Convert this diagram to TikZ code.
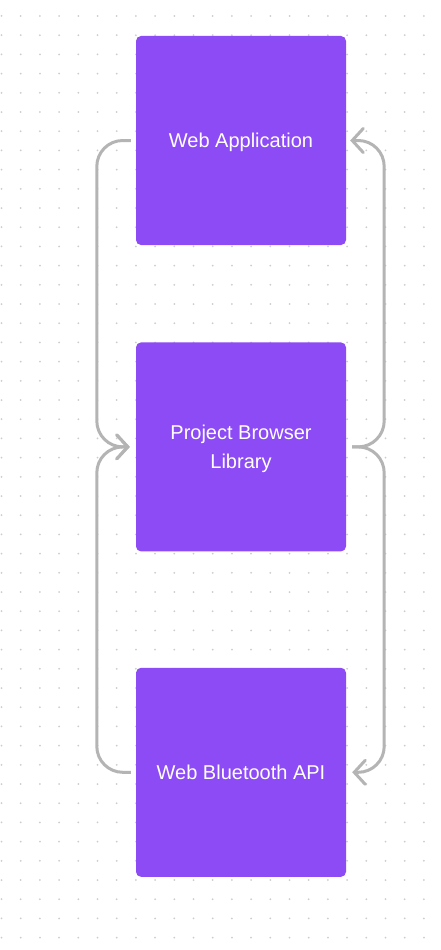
\documentclass[tikz,border=0pt]{standalone}
\usepackage{fontspec}
\setmainfont{Liberation Sans}
\usetikzlibrary{arrows.meta}
\usetikzlibrary{positioning,calc}
\definecolor{boxpurple}{RGB}{140,75,244}
\definecolor{linkgray}{RGB}{180,180,180}
\definecolor{dotgray}{RGB}{205,205,205}

\begin{document}
\begin{tikzpicture}[x=1pt, y=-1pt, >={Straight Barb[length=11pt, width=24pt, line cap=round]},
		box/.style={fill=boxpurple, rounded corners=5pt, minimum width=210pt, minimum height=209pt, inner sep=0pt, text depth=0pt, text=white, align=center, font=\fontsize{20}{29}\selectfont},
		link/.style={draw=linkgray, line width=3pt, rounded corners=26pt, ->}]
		\useasboundingbox (0,0) rectangle (440,950);
		\fill[white] (0,0) rectangle (440,950);
		% dotted canvas
		\foreach \i in {0,...,22}
		\foreach \j in {0,...,48}
		\fill[dotgray] (1.5+19.2*\i, 16+19.2*\j) circle (1pt);
		% boxes
		\node[box] (webapp) at (241,140.5) {Web Application};
		\node[box, below=97pt of webapp] (library) {Project Browser\\Library};
		\node[box, below=116pt of library] (bluetooth) {Web Bluetooth API};
		% links
		\draw[link] ([xshift=-5pt]webapp.west) -- ++(-34,0) |- ([xshift=-6pt]library.west);
		\draw[link] ([xshift=-5pt]bluetooth.west) -- ++(-34,0) |- ([xshift=-6pt]library.west);
		\draw[link] ([xshift=6pt]library.east) -- ++(32,0) |- ([xshift=4pt]webapp.east);
		\draw[link] ([xshift=6pt]library.east) -- ++(32,0) |- ([xshift=6pt]bluetooth.east);
\end{tikzpicture}
\end{document}
